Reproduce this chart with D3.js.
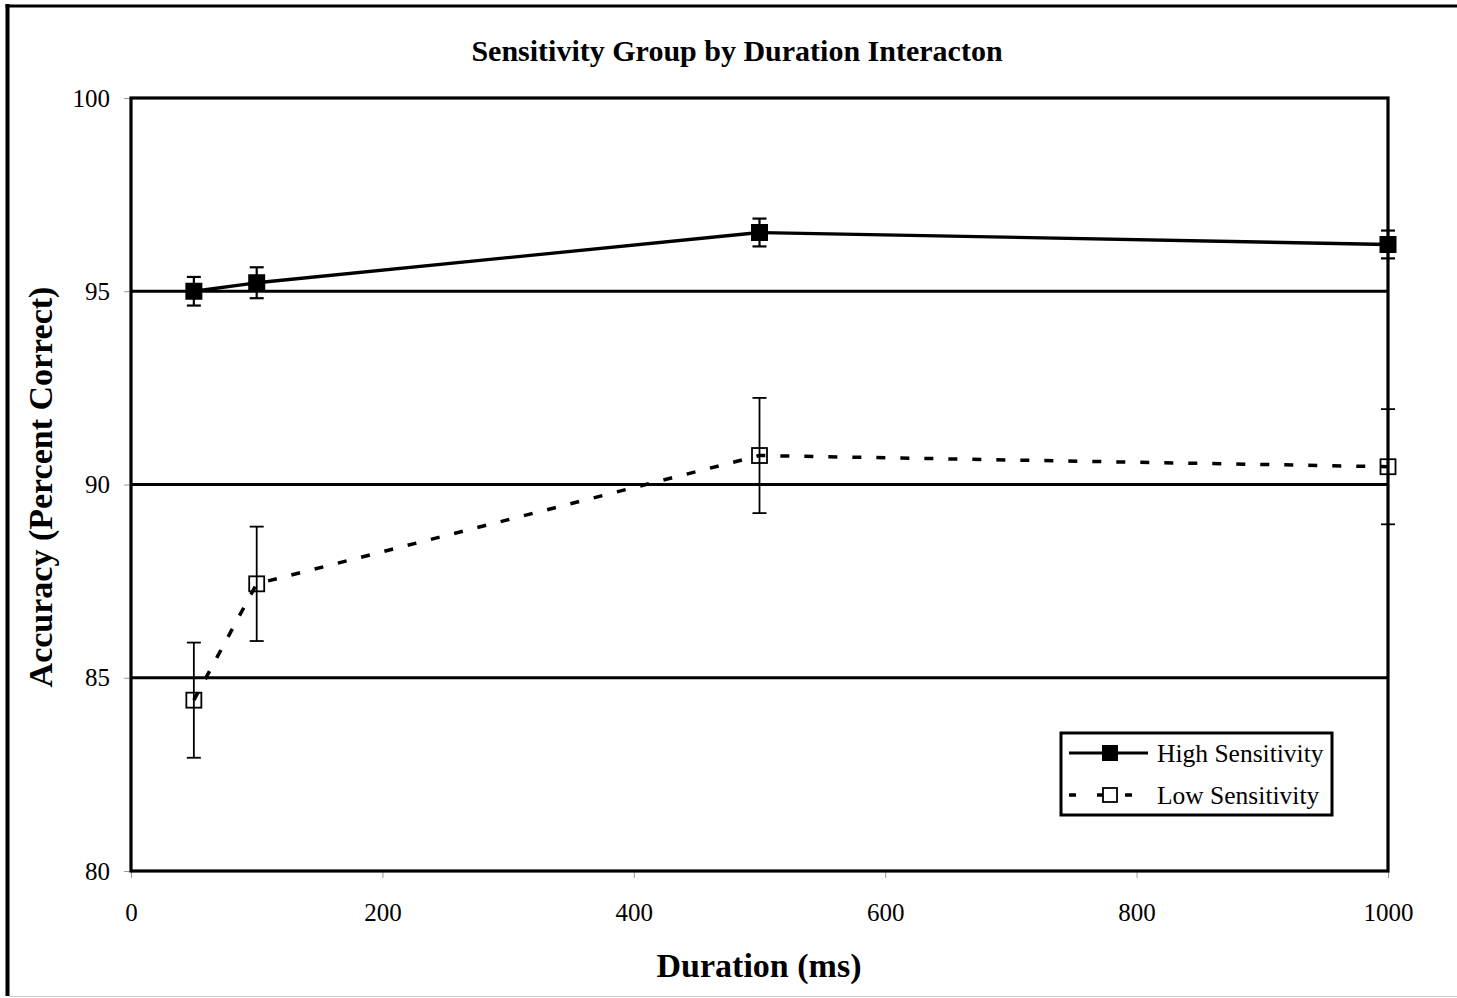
<!DOCTYPE html>
<html><head><meta charset="utf-8">
<script src="https://cdn.jsdelivr.net/npm/d3@7"></script>
<style>body{margin:0;background:#fff;overflow:hidden}text{font-family:"Liberation Serif","Times New Roman",serif}</style>
</head><body><script>
const durations = [50, 100, 500, 1000];
const highSensitivity = [95.0, 95.22, 96.52, 96.21];
const highError = [0.37, 0.40, 0.36, 0.36];
const lowSensitivity = [84.42, 87.43, 90.75, 90.46];
const lowError = [1.49, 1.48, 1.49, 1.49];
const xTicks = [0, 200, 400, 600, 800, 1000];
const yTicks = [80, 85, 90, 95, 100];
const gridValues = [85, 90, 95];
const seriesNames = ["High Sensitivity", "Low Sensitivity"];

const W = 1457, H = 998;
const svg = d3.select("body").append("svg").attr("width", W).attr("height", H);
svg.append("rect").attr("width", W).attr("height", H).attr("fill", "#fff");

// outer frame
svg.append("line").attr("x1", 7.5).attr("x2", 7.5).attr("y1", 4).attr("y2", 996).attr("stroke", "#000").attr("stroke-width", 4);
svg.append("line").attr("x1", 5.5).attr("x2", W).attr("y1", 6).attr("y2", 6).attr("stroke", "#000").attr("stroke-width", 3);
svg.append("line").attr("x1", 9).attr("x2", W).attr("y1", 996.5).attr("y2", 996.5).attr("stroke", "#ccc").attr("stroke-width", 1);

const x = d3.scaleLinear().domain([0, 1000]).range([131, 1388]);
const y = d3.scaleLinear().domain([80, 100]).range([871, 98]);

// title
svg.append("text").attr("x", 737).attr("y", 61).attr("text-anchor", "middle")
  .attr("font-weight", "bold").attr("font-size", 30).text("Sensitivity Group by Duration Interacton");

// axes
const yAxis = svg.append("g").attr("transform", `translate(${x(0)},0)`)
  .call(d3.axisLeft(y).tickValues(yTicks).tickSize(7).tickPadding(14).tickFormat(d3.format("d")));
const xAxis = svg.append("g").attr("transform", `translate(0,${y(80)})`)
  .call(d3.axisBottom(x).tickValues(xTicks).tickSize(7).tickPadding(25).tickFormat(d3.format("d")));
[yAxis, xAxis].forEach(g => {
  g.select(".domain").remove();
  g.selectAll(".tick line").attr("stroke", "#999").attr("stroke-width", 1);
  g.selectAll(".tick text").attr("font-size", 25).attr("fill", "#000")
    .style("font-family", '"Liberation Serif","Times New Roman",serif');
});

// gridlines
svg.append("g").selectAll("line").data(gridValues).join("line")
  .attr("x1", x(0)).attr("x2", x(1000)).attr("y1", d => y(d)).attr("y2", d => y(d))
  .attr("stroke", "#000").attr("stroke-width", 3.2);

// plot border
svg.append("rect").attr("x", x(0)).attr("y", y(100)).attr("width", x(1000) - x(0)).attr("height", y(80) - y(100))
  .attr("fill", "none").attr("stroke", "#000").attr("stroke-width", 3.2);

// axis labels
svg.append("text").attr("x", 759).attr("y", 977).attr("text-anchor", "middle")
  .attr("font-weight", "bold").attr("font-size", 34).text("Duration (ms)");
svg.append("text").attr("transform", "translate(52,487) rotate(-90)").attr("text-anchor", "middle")
  .attr("font-weight", "bold").attr("font-size", 34).text("Accuracy (Percent Correct)");

const high = durations.map((d, i) => ({ d, v: highSensitivity[i], e: highError[i] }));
const low = durations.map((d, i) => ({ d, v: lowSensitivity[i], e: lowError[i] }));
const line = d3.line().x(p => x(p.d)).y(p => y(p.v));

// low series
svg.append("path").datum(low).attr("d", line).attr("fill", "none").attr("stroke", "#000")
  .attr("stroke-width", 3.5).attr("stroke-dasharray", "9,15");
// high series
svg.append("path").datum(high).attr("d", line).attr("fill", "none").attr("stroke", "#000").attr("stroke-width", 3.3);

function errorBars(data, capW, sw) {
  const g = svg.append("g").attr("stroke", "#000");
  g.selectAll(".v").data(data).join("line")
    .attr("x1", p => x(p.d)).attr("x2", p => x(p.d)).attr("y1", p => y(p.v + p.e)).attr("y2", p => y(p.v - p.e)).attr("stroke-width", sw);
  g.selectAll(".t").data(data).join("line")
    .attr("x1", p => x(p.d) - capW / 2).attr("x2", p => x(p.d) + capW / 2).attr("y1", p => y(p.v + p.e)).attr("y2", p => y(p.v + p.e)).attr("stroke-width", sw);
  g.selectAll(".b").data(data).join("line")
    .attr("x1", p => x(p.d) - capW / 2).attr("x2", p => x(p.d) + capW / 2).attr("y1", p => y(p.v - p.e)).attr("y2", p => y(p.v - p.e)).attr("stroke-width", sw);
}
errorBars(low, 14, 1.8);
errorBars(high, 14, 2.2);

svg.append("g").selectAll("rect").data(low).join("rect")
  .attr("x", p => x(p.d) - 7.5).attr("y", p => y(p.v) - 7.5).attr("width", 15).attr("height", 15)
  .attr("fill", "none").attr("stroke", "#000").attr("stroke-width", 1.8);
svg.append("g").selectAll("rect").data(high).join("rect")
  .attr("x", p => x(p.d) - 8.5).attr("y", p => y(p.v) - 8.5).attr("width", 17).attr("height", 17)
  .attr("fill", "#000");

// legend
const lg = svg.append("g");
lg.append("rect").attr("x", 1061).attr("y", 733).attr("width", 271).attr("height", 82)
  .attr("fill", "#fff").attr("stroke", "#000").attr("stroke-width", 3);
lg.append("line").attr("x1", 1069).attr("x2", 1148).attr("y1", 753).attr("y2", 753).attr("stroke", "#000").attr("stroke-width", 3);
lg.append("rect").attr("x", 1102).attr("y", 745).attr("width", 16).attr("height", 16).attr("fill", "#000");
lg.append("line").attr("x1", 1069).attr("x2", 1148).attr("y1", 795).attr("y2", 795).attr("stroke", "#000")
  .attr("stroke-width", 3.5).attr("stroke-dasharray", "7,21");
lg.append("rect").attr("x", 1103).attr("y", 788).attr("width", 14).attr("height", 14)
  .attr("fill", "#fff").attr("stroke", "#000").attr("stroke-width", 1.8);
lg.selectAll("text").data(seriesNames).join("text")
  .attr("x", 1157).attr("y", (d, i) => 762 + i * 42).attr("font-size", 25.5).text(d => d);
</script></body></html>
